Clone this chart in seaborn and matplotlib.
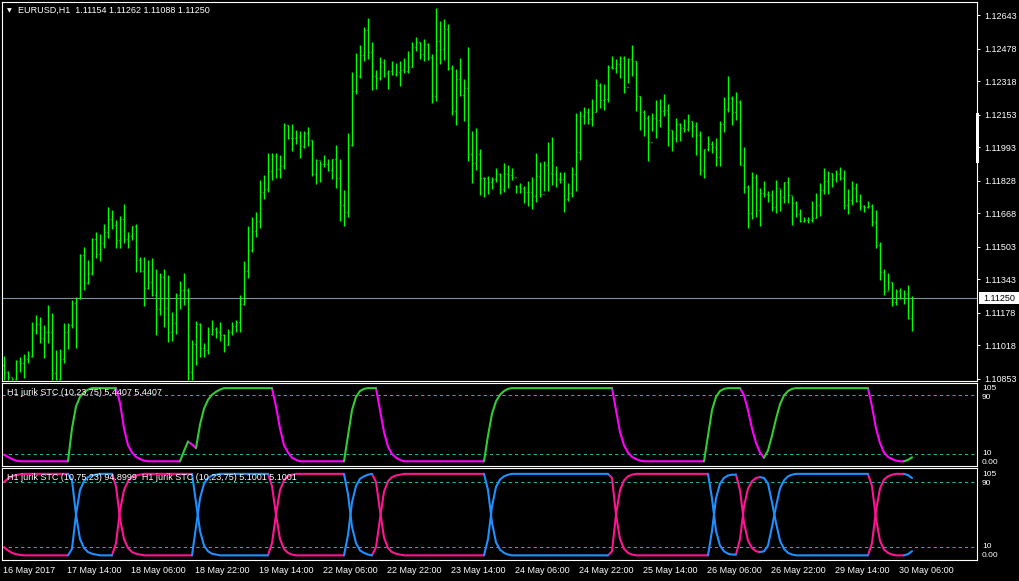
import numpy as np
import pandas as pd
import seaborn as sns
import matplotlib.pyplot as plt
import matplotlib.transforms as mtransforms
from matplotlib.patches import Rectangle

# ---------------- data (prices in 1e-5 units, one value per H1 bar) ----------------
highs = [110965, 110891, 110856, 110945, 110960, 110975, 110990, 111133, 111167, 111157,
         111118, 111216, 111177, 110995, 111000, 111128, 111128, 111241, 111256, 111468,
         111502, 111438, 111547, 111576, 111566, 111616, 111699, 111685, 111635, 111655,
         111714, 111576, 111606, 111616, 111453, 111453, 111438, 111448, 111394, 111374,
         111394, 111364, 111182, 111276, 111335, 111374, 111300, 111044, 111137, 111128,
         111029, 111108, 111142, 111108, 111133, 111074, 111098, 111133, 111142, 111266,
         111433, 111606, 111650, 111675, 111833, 111857, 111966, 111966, 111966, 111956,
         112114, 112104, 112109, 112079, 112074, 112074, 112094, 112030, 111936, 111926,
         111956, 111936, 111936, 112005, 111936, 111783, 112064, 112365, 112459, 112498,
         112587, 112631, 112513, 112375, 112439, 112429, 112375, 112419, 112409, 112419,
         112434, 112469, 112513, 112538, 112513, 112528, 112508, 112454, 112681, 112616,
         112626, 112602, 112400, 112380, 112434, 112331, 112488, 112074, 112089, 111985,
         111847, 111852, 111847, 111892, 111867, 111916, 111907, 111892, 111808, 111818,
         111803, 111828, 111847, 111966, 111921, 111926, 112020, 112045, 111902, 111872,
         111872, 111818, 111897, 112163, 112173, 112193, 112188, 112232, 112331, 112311,
         112306, 112400, 112444, 112429, 112444, 112444, 112434, 112498, 112419, 112247,
         112178, 112153, 112163, 112227, 112232, 112257, 112207, 112079, 112138, 112114,
         112133, 112158, 112123, 112119, 112074, 111985, 112050, 112025, 112040, 112123,
         112242, 112345, 112247, 112266, 112227, 111995, 111808, 111872, 111862, 111793,
         111828, 111778, 111783, 111833, 111788, 111823, 111847, 111754, 111729, 111690,
         111650, 111650, 111729, 111769, 111818, 111892, 111877, 111867, 111882, 111897,
         111882, 111788, 111828, 111818, 111764, 111709, 111729, 111714, 111685, 111527,
         111394, 111374, 111330, 111295, 111300, 111290, 111315, 111262]

lows = [110847, 110847, 110847, 110847, 110886, 110856, 110930, 110960, 111074, 111029,
        110955, 111029, 110847, 110847, 110847, 110930, 111000, 111103, 111004, 111246,
        111290, 111320, 111364, 111448, 111433, 111497, 111547, 111591, 111497, 111497,
        111522, 111497, 111537, 111379, 111379, 111211, 111295, 111261, 111068, 111167,
        111108, 111034, 111039, 111074, 111197, 111216, 110847, 110847, 110921, 110960,
        110960, 110975, 111068, 111054, 111039, 110985, 111019, 111068, 111083, 111083,
        111216, 111349, 111478, 111552, 111596, 111739, 111773, 111833, 111842, 111842,
        111887, 112035, 111976, 112010, 111941, 111990, 112000, 111852, 111813, 111823,
        111897, 111877, 111838, 111793, 111630, 111606, 111650, 112000, 112257, 112335,
        112419, 112429, 112276, 112281, 112326, 112340, 112281, 112350, 112345, 112296,
        112360, 112360, 112390, 112469, 112429, 112419, 112424, 112212, 112222, 112404,
        112424, 112375, 112153, 112104, 112247, 112123, 111926, 111818, 111882, 111759,
        111749, 111764, 111788, 111823, 111764, 111773, 111793, 111833, 111769, 111769,
        111719, 111704, 111690, 111724, 111749, 111778, 111778, 111808, 111798, 111818,
        111675, 111729, 111749, 111778, 111931, 112109, 112109, 112099, 112168, 112188,
        112178, 112217, 112380, 112360, 112335, 112262, 112311, 112345, 112173, 112079,
        112050, 111926, 112074, 112040, 112094, 112148, 112000, 111976, 112020, 112025,
        112069, 112074, 112045, 111956, 111857, 111842, 111976, 111966, 111902, 111902,
        112069, 112168, 112104, 112128, 111907, 111769, 111596, 111640, 111650, 111606,
        111749, 111724, 111680, 111670, 111680, 111719, 111719, 111611, 111650, 111626,
        111626, 111621, 111626, 111645, 111655, 111764, 111764, 111798, 111823, 111833,
        111690, 111665, 111709, 111724, 111685, 111675, 111695, 111606, 111497, 111340,
        111266, 111290, 111211, 111216, 111246, 111221, 111147, 111088]

closes = [110886, 110861, 110852, 110942, 110930, 110950, 110965, 111093, 111123, 111054,
          111083, 111083, 110881, 110852, 110950, 111083, 111118, 111226, 111251, 111463,
          111325, 111374, 111542, 111468, 111522, 111576, 111640, 111611, 111537, 111640,
          111542, 111557, 111606, 111438, 111384, 111300, 111330, 111266, 111197, 111354,
          111202, 111083, 111128, 111266, 111290, 111290, 110886, 111024, 111123, 111004,
          110995, 111074, 111098, 111083, 111068, 111019, 111083, 111113, 111133, 111221,
          111384, 111488, 111581, 111630, 111773, 111788, 111877, 111951, 111887, 111902,
          112104, 112040, 112040, 112045, 112000, 112064, 112030, 111862, 111931, 111911,
          111911, 111882, 111936, 111842, 111709, 111675, 112005, 112271, 112345, 112449,
          112572, 112464, 112345, 112335, 112414, 112360, 112370, 112355, 112365, 112375,
          112370, 112390, 112488, 112513, 112454, 112503, 112439, 112247, 112518, 112478,
          112577, 112385, 112173, 112331, 112252, 112286, 111961, 111916, 111961, 111842,
          111842, 111823, 111838, 111862, 111788, 111862, 111857, 111847, 111803, 111793,
          111773, 111773, 111754, 111852, 111764, 111907, 111867, 111862, 111838, 111838,
          111739, 111769, 111862, 111971, 112148, 112168, 112133, 112168, 112301, 112227,
          112232, 112390, 112385, 112404, 112434, 112291, 112429, 112419, 112247, 112168,
          112138, 112020, 112138, 112128, 112173, 112178, 112079, 112040, 112109, 112089,
          112084, 112123, 112099, 112054, 111882, 111985, 112010, 111995, 111946, 112109,
          112183, 112237, 112168, 112217, 111907, 111798, 111670, 111847, 111685, 111769,
          111764, 111759, 111700, 111793, 111749, 111823, 111759, 111719, 111665, 111630,
          111635, 111635, 111645, 111709, 111783, 111828, 111867, 111838, 111862, 111842,
          111709, 111734, 111793, 111729, 111704, 111700, 111704, 111626, 111512, 111379,
          111285, 111330, 111231, 111285, 111251, 111271, 111154, 111250]

first_open = 110921  # open of the first bar; later opens equal the prior close

# jurik STC (10,23,75), upper indicator window
stc_main = [9, 6, 3, 1, 0, 0, 0, 0, 0, 0,
            0, 0, 0, 0, 0, 0, 0, 45, 75, 88,
            94, 98, 100, 100, 100, 100, 100, 100, 100, 80,
            45, 22, 12, 6, 3, 1, 0, 0, 0, 0,
            0, 0, 0, 0, 0, 14, 27, 23, 18, 50,
            72, 84, 91, 95, 98, 100, 100, 100, 100, 100,
            100, 100, 100, 100, 100, 100, 100, 100, 75, 45,
            22, 12, 5, 2, 0, 0, 0, 0, 0, 0,
            0, 0, 0, 0, 0, 0, 35, 70, 88, 96,
            99, 100, 100, 100, 70, 40, 20, 10, 5, 2,
            0, 0, 0, 0, 0, 0, 0, 0, 0, 0,
            0, 0, 0, 0, 0, 0, 0, 0, 0, 0,
            0, 35, 65, 82, 91, 96, 99, 100, 100, 100,
            100, 100, 100, 100, 100, 100, 100, 100, 100, 100,
            100, 100, 100, 100, 100, 100, 100, 100, 100, 100,
            100, 100, 100, 70, 40, 22, 12, 6, 3, 1,
            0, 0, 0, 0, 0, 0, 0, 0, 0, 0,
            0, 0, 0, 0, 0, 0, 35, 70, 88, 96,
            99, 100, 100, 100, 100, 90, 70, 45, 25, 12,
            5, 15, 35, 58, 78, 90, 96, 99, 100, 100,
            100, 100, 100, 100, 100, 100, 100, 100, 100, 100,
            100, 100, 100, 100, 100, 100, 100, 75, 45, 25,
            12, 6, 3, 1, 0, 0, 2, 5.4407]

# jurik STC (10,23,75) of the lower window; its partner line (10,75,23) is 100 minus it
stc_low = [10, 6, 3, 1.5, 0.5, 0, 0, 0, 0, 0,
           0, 0, 0, 0, 0, 0, 0, 8, 50, 80,
           91, 96, 98, 99, 100, 100, 100, 100, 85, 45,
           20, 9, 4, 2, 1, 0, 0, 0, 0, 0,
           0, 0, 0, 0, 0, 0, 0, 0, 35, 70,
           88, 95, 98, 99, 100, 100, 100, 100, 100, 100,
           100, 100, 100, 100, 100, 100, 100, 85, 50, 20,
           8, 3, 1, 0, 0, 0, 0, 0, 0, 0,
           0, 0, 0, 0, 0, 0, 25, 65, 85, 94,
           97, 99, 100, 90, 55, 22, 9, 4, 2, 1,
           0, 0, 0, 0, 0, 0, 0, 0, 0, 0,
           0, 0, 0, 0, 0, 0, 0, 0, 0, 0,
           0, 20, 60, 84, 93, 97, 99, 100, 100, 100,
           100, 100, 100, 100, 100, 100, 100, 100, 100, 100,
           100, 100, 100, 100, 100, 100, 100, 100, 100, 100,
           100, 100, 95, 50, 20, 8, 3, 1, 0, 0,
           0, 0, 0, 0, 0, 0, 0, 0, 0, 0,
           0, 0, 0, 0, 0, 0, 0, 30, 70, 88,
           95, 98, 99, 99, 80, 40, 18, 9, 5, 4,
           5, 12, 35, 60, 82, 92, 97, 99, 100, 100,
           100, 100, 100, 100, 100, 100, 100, 100, 100, 100,
           100, 100, 100, 100, 100, 100, 100, 85, 45, 18,
           7, 3, 1, 0, 0, 0, 1.5, 5.1001]

price_ticks = [1.12643, 1.12478, 1.12318, 1.12153, 1.11993, 1.11828,
               1.11668, 1.11503, 1.11343, 1.11178, 1.11018, 1.10853]
last_price = 1.11250

tick_times = ["2017-05-16 22:00", "2017-05-17 14:00", "2017-05-18 06:00", "2017-05-18 22:00",
              "2017-05-19 14:00", "2017-05-22 06:00", "2017-05-22 22:00", "2017-05-23 14:00",
              "2017-05-24 06:00", "2017-05-24 22:00", "2017-05-25 14:00", "2017-05-26 06:00",
              "2017-05-26 22:00", "2017-05-29 14:00", "2017-05-30 06:00"]
tick_labels = ["16 May 2017", "17 May 14:00", "18 May 06:00", "18 May 22:00", "19 May 14:00",
               "22 May 06:00", "22 May 22:00", "23 May 14:00", "24 May 06:00", "24 May 22:00",
               "25 May 14:00", "26 May 06:00", "26 May 22:00", "29 May 14:00", "30 May 06:00"]

title_main = "EURUSD,H1  1.11154 1.11262 1.11088 1.11250"
title_ind1 = "H1 jurik STC (10,23,75) 5.4407 5.4407"
title_ind2 = "H1 jurik STC (10,75,23) 94.8999  H1 jurik STC (10,23,75) 5.1001 5.1001"

# ---------------- prep ----------------
bar_times = pd.date_range("2017-05-16 22:00", "2017-05-30 09:00", freq="h")
bar_times = bar_times[bar_times.dayofweek < 5]
bars = np.arange(len(bar_times))
tick_pos = [bar_times.get_loc(pd.Timestamp(t)) for t in tick_times]

hi = np.array(highs) / 1e5
lo = np.array(lows) / 1e5
cl = np.array(closes) / 1e5
op = np.concatenate([[first_open], closes[:-1]]) / 1e5


def seg_colors(values, up, down, start):
    out = []
    c = start
    for i in range(1, len(values)):
        if values[i] > values[i - 1]:
            c = up
        elif values[i] < values[i - 1]:
            c = down
        out.append(c)
    return out


def runs_frame(values, seg, tag):
    rows = []
    run = 0
    for i, c in enumerate(seg):
        if i > 0 and c != seg[i - 1]:
            run += 1
        if i == 0 or c != seg[i - 1]:
            rows.append((i, values[i], c, f"{tag}{run}"))
        rows.append((i + 1, values[i + 1], c, f"{tag}{run}"))
    return pd.DataFrame(rows, columns=["bar", "value", "color", "run"])


GREEN, MAGENTA = "#32cd32", "#ff00ff"
BLUE, PINK = "#1e90ff", "#ff1493"
LEVEL = "#20b2aa"

seg1 = seg_colors(stc_main, GREEN, MAGENTA, MAGENTA)
df1 = runs_frame(stc_main, seg1, "a")

stc_low = np.array(stc_low, dtype=float)
seg2 = seg_colors(stc_low, BLUE, PINK, PINK)
df2 = pd.concat([runs_frame(stc_low, seg2, "b"),
                 runs_frame(100 - stc_low, seg2, "c")], ignore_index=True)

# ---------------- figure ----------------
sns.set_style("dark", rc={"axes.facecolor": "black", "figure.facecolor": "black",
                          "axes.edgecolor": "white", "axes.grid": False})
plt.rcParams["font.family"] = ["Liberation Sans", "DejaVu Sans"]

W, H = 1020, 581
FS = 6.5
XLIM = (-0.5, 243.25)   # bar i sits on pixel 4 + 4 i
fig = plt.figure(figsize=(W / 100, H / 100), dpi=100)


def px_axes(x0, y0, x1, y1):
    a = fig.add_axes([x0 / W, 1 - y1 / H, (x1 - x0) / W, (y1 - y0) / H])
    a.set_facecolor("black")
    for s in a.spines.values():
        s.set_color("white")
        s.set_linewidth(0.8)
    a.set_xlim(*XLIM)
    return a


ax = px_axes(2, 2, 977, 381)
ax1 = px_axes(2, 383, 977, 466)
ax2 = px_axes(2, 468, 977, 560)

# price bars: thin high-low line, short open tick left, close tick right
bar_kw = dict(colors="#00ff00", linewidth=1.0, capstyle="butt")
ax.vlines(bars, lo, hi, **bar_kw)
ax.hlines(op, bars - 0.3, bars, **bar_kw)
ax.hlines(cl, bars, bars + 0.3, **bar_kw)
ax.axhline(last_price, color="#8090a0", lw=0.8, zorder=0)
ax.set_ylim(1.108428, 1.127087)

ax.yaxis.tick_right()
ax.set_yticks(price_ticks)
ax.set_yticklabels([f"{p:.5f}" for p in price_ticks])
ax.tick_params(axis="y", colors="white", labelcolor="white", labelsize=FS,
               direction="out", length=2.5, width=0.7, pad=2.5)
ax.set_xticks([])

# last price box
blend = mtransforms.blended_transform_factory(ax.transAxes, ax.transData)
ax.add_patch(Rectangle((1.0024, 1.11221), 0.042, 0.00059, transform=blend,
                       facecolor="white", edgecolor="none", clip_on=False))
ax.text(1.0066, last_price, f"{last_price:.5f}", transform=blend, color="black",
        fontsize=FS, va="center", ha="left", clip_on=False)
fig.patches.append(Rectangle((976 / W, 1 - 163 / H), 3 / W, 50 / H,
                             transform=fig.transFigure, facecolor="white", edgecolor="none"))

# indicator windows
for a, lo_lim, hi_lim in [(ax1, -6.4, 107.0), (ax2, -5.7, 107.2)]:
    a.set_ylim(lo_lim, hi_lim)
    a.axhline(90, color=LEVEL, lw=0.75, ls=(0, (3, 3)), zorder=1)
    a.axhline(10, color=LEVEL, lw=0.75, ls=(0, (3, 3)), zorder=1)
    a.set_yticks([])

sns.lineplot(data=df1, x="bar", y="value", hue="color", units="run", estimator=None,
             sort=False, palette={GREEN: GREEN, MAGENTA: MAGENTA}, legend=False,
             linewidth=1.5, ax=ax1, zorder=3)
sns.lineplot(data=df2, x="bar", y="value", hue="color", units="run", estimator=None,
             sort=False, palette={BLUE: BLUE, PINK: PINK}, legend=False,
             linewidth=1.5, ax=ax2, zorder=3)
for a in (ax1, ax2):
    a.set_xlabel("")
    a.set_ylabel("")
    a.set_xlim(*XLIM)
ax1.set_xticks([])

ax2.set_xticks(tick_pos)
ax2.set_xticklabels(tick_labels)
ax2.tick_params(axis="x", colors="white", labelcolor="white", labelsize=FS,
                direction="out", length=3, width=0.7, pad=1.2)
shift = mtransforms.ScaledTranslation(-1 / 100, 0, fig.dpi_scale_trans)
for lbl in ax2.get_xticklabels():
    lbl.set_ha("left")
    lbl.set_transform(lbl.get_transform() + shift)


# text in pixel positions
def ptext(x, y, s, **kw):
    opts = dict(color="white", fontsize=FS, va="center", ha="left")
    opts.update(kw)
    fig.text(x / W, 1 - y / H, s, **opts)


ptext(6.5, 10.5, "\u25bc", fontsize=4.5, family=["DejaVu Sans"])
ptext(18, 10.5, title_main)
ptext(7, 392.5, title_ind1, zorder=0)
ptext(7, 478, title_ind2, zorder=0)

# right-hand scale labels of the indicator windows (105 sits just above 90)
for y, s in [(389, "105"), (397.5, "90"), (453.5, "10"), (462.5, "0.00"),
             (474.5, "105"), (483.5, "90"), (547, "10"), (555.5, "0.00")]:
    ptext(982, y, s, fontsize=6)

fig.savefig("out.png", dpi=100, facecolor="black")
